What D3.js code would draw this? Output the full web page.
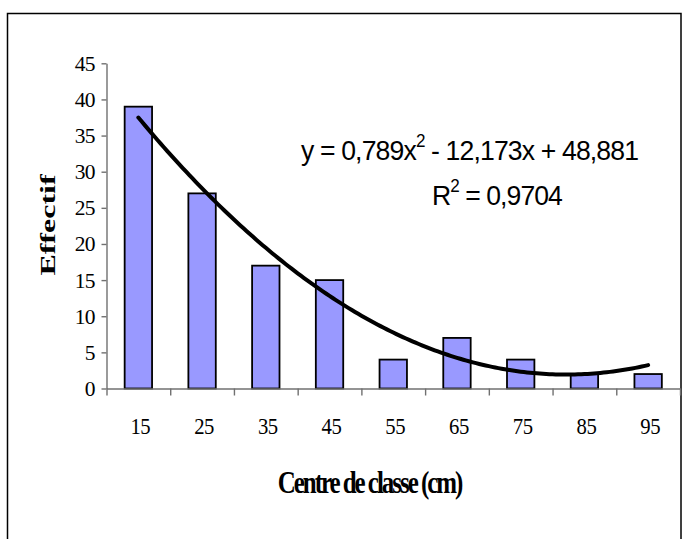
<!DOCTYPE html>
<html>
<head>
<meta charset="utf-8">
<script src="https://cdn.jsdelivr.net/npm/d3@7"></script>
<style>
  body { margin: 0; background: #fff; }
  svg { display: block; }
</style>
</head>
<body>
<svg id="chart" width="688" height="539"></svg>
<script>
// data
let classes = [15, 25, 35, 45, 55, 65, 75, 85, 95]
let effectifs = [39, 27, 17, 15, 4, 7, 4, 2, 2]
let yTicks = [0, 5, 10, 15, 20, 25, 30, 35, 40, 45]
// polynomial trendline, as printed on the chart (x = class index 1..9)
let trendCoefs = [48.881, -12.173, 0.789]
let trendR2 = "0,9704"

let width = 688,
    height = 539,
    plot = {left: 106.5, right: 680, top: 63.3, bottom: 388.5}

function make_scales() {
  let x = d3.scaleBand()
    .domain(classes)
    .range([plot.left, plot.right])
  return {
    x: x,
    edges: d3.scaleLinear()
      .domain([0, classes.length])
      .range([plot.left, plot.right]),
    idx: d3.scaleLinear()
      .domain([1, classes.length])
      .range([x(classes[0]) + x.bandwidth() / 2, x(classes[classes.length - 1]) + x.bandwidth() / 2]),
    y: d3.scaleLinear()
      .domain([0, 45])
      .range([plot.bottom, plot.top])
  }
}

// text squeezed horizontally like the original export
function label(svg, x, y, opts) {
  let g = svg.append("g")
    .attr("transform", `translate(${x},${y}) scale(${opts.sx || 1},1)` + (opts.rotate ? ` rotate(${opts.rotate})` : ""))
  let t = g.append("text")
    .attr("text-anchor", opts.anchor || "start")
    .attr("font-family", opts.family || "'Liberation Serif', 'Times New Roman', serif")
    .attr("font-size", opts.size)
    .attr("font-weight", opts.weight || "normal")
    .attr("letter-spacing", opts.ls || 0)
    .attr("fill", "#000")
  return t
}

function draw() {
  let svg = d3.select("#chart")
  let s = make_scales()

  // outer frame
  svg.append("rect")
    .attr("x", 7.5).attr("y", 13.5)
    .attr("width", 673.5).attr("height", 560)
    .attr("fill", "none")
    .attr("stroke", "#000")
    .attr("stroke-width", 1.5)

  // bars
  let barW = s.x.bandwidth() * 0.43
  svg.append("g")
    .selectAll("rect")
    .data(classes).enter()
    .append("rect")
    .attr("x", (d) => s.x(d) + (s.x.bandwidth() - barW) / 2)
    .attr("y", (d, i) => s.y(effectifs[i]))
    .attr("width", barW)
    .attr("height", (d, i) => s.y(0) - s.y(effectifs[i]))
    .attr("fill", "#9999ff")
    .attr("stroke", "#000")
    .attr("stroke-width", 1.8)

  // axes
  let yAxis = svg.append("g")
    .attr("transform", `translate(${plot.left},0)`)
    .call(d3.axisLeft(s.y).tickValues(yTicks).tickSize(5).tickSizeOuter(0).tickFormat(""))
  let xAxis = svg.append("g")
    .attr("transform", `translate(0,${plot.bottom})`)
    .call(d3.axisBottom(s.edges).tickValues(d3.range(classes.length + 1)).tickSize(7).tickSizeOuter(0).tickFormat(""))
  for (let a of [yAxis, xAxis]) {
    a.selectAll("path, line").attr("stroke", "#707070").attr("stroke-width", 1.4)
  }

  yTicks.forEach((v) => {
    label(svg, 95, s.y(v) + 7.5, {size: 21.5, anchor: "end", sx: 1.0, ls: -0.6}).text(v)
  })
  classes.forEach((c) => {
    label(svg, s.x(c) + s.x.bandwidth() / 2 + 2, 434, {size: 23, anchor: "middle", sx: 0.9, ls: -0.5}).text(c)
  })

  // trendline
  let trend = d3.range(1, classes.length + 0.001, 0.05).map((t) => [t, trendCoefs[0] + trendCoefs[1] * t + trendCoefs[2] * t * t])
  svg.append("path")
    .datum(trend)
    .attr("d", d3.line().x((d) => s.idx(d[0])).y((d) => s.y(d[1])))
    .attr("fill", "none")
    .attr("stroke", "#000")
    .attr("stroke-width", 4)
    .attr("stroke-linejoin", "round")
    .attr("stroke-linecap", "round")

  // equation
  let sans = "'Liberation Sans', Arial, sans-serif"
  let eq = label(svg, 301, 160, {size: 28, family: sans, sx: 0.95, ls: -0.9})
  eq.append("tspan").text("y = " + String(trendCoefs[2]).replace(".", ",") + "x")
  eq.append("tspan").attr("font-size", 18).attr("dx", 0).attr("dy", -13).text("2")
  eq.append("tspan").attr("dy", 13).text(" - " + String(-trendCoefs[1]).replace(".", ",") + "x + " + String(trendCoefs[0]).replace(".", ","))

  let r2 = label(svg, 432, 205, {size: 28, family: sans, sx: 0.95, ls: -1.0})
  r2.append("tspan").text("R")
  r2.append("tspan").attr("font-size", 18).attr("dx", 0).attr("dy", -13).text("2")
  r2.append("tspan").attr("dy", 13).text(" = " + trendR2)

  // titles
  label(svg, 369.5, 493, {size: 32, weight: "bold", anchor: "middle", sx: 0.78, ls: -2.6}).text("Centre de classe (cm)")
  label(svg, 55, 225, {size: 32, weight: "bold", anchor: "middle", sx: 0.66, rotate: -90}).text("Effectif")
}

draw()
</script>
</body>
</html>
